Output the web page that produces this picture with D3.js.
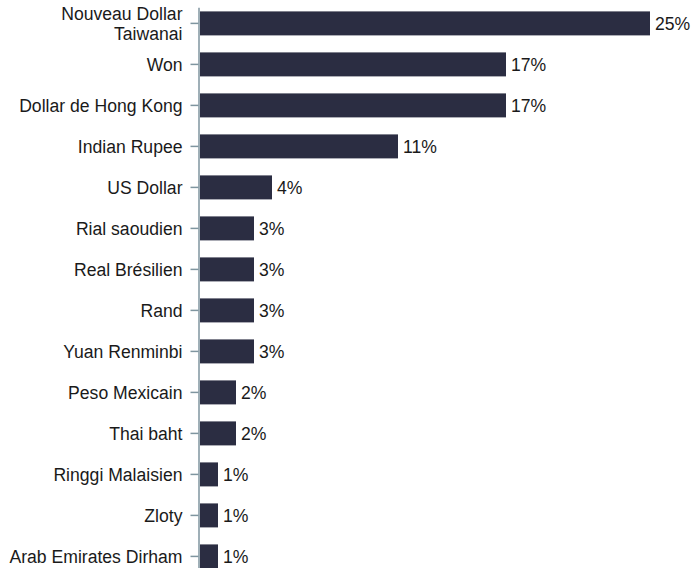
<!DOCTYPE html>
<html>
<head>
<meta charset="utf-8">
<script src="https://cdn.jsdelivr.net/npm/d3@7"></script>
<style>
  html, body { margin: 0; padding: 0; background: #fff; }
  svg { display: block; }
  text { font-family: "Liberation Sans", Arial, sans-serif; }
</style>
</head>
<body>
<svg id="chart" width="693" height="568"></svg>
<script>
const categories = ["Nouveau Dollar Taiwanai", "Won", "Dollar de Hong Kong", "Indian Rupee", "US Dollar",
  "Rial saoudien", "Real Brésilien", "Rand", "Yuan Renminbi", "Peso Mexicain", "Thai baht",
  "Ringgi Malaisien", "Zloty", "Arab Emirates Dirham"];
const values = [25, 17, 17, 11, 4, 3, 3, 3, 3, 2, 2, 1, 1, 1];
const valueLabels = ["25%", "17%", "17%", "11%", "4%", "3%", "3%", "3%", "3%", "2%", "2%", "1%", "1%", "1%"];

const svg = d3.select("#chart");
const fontSize = 17.6;
const left = 199;

const y = d3.scaleBand()
  .domain(categories)
  .range([7.3, 572.5])
  .paddingInner(0.415)
  .paddingOuter(0.1);

const x = d3.scaleLinear().domain([0, 25]).range([0, 450]);

const bars = svg.append("g").attr("transform", `translate(${left + 1},0)`);
bars.selectAll("rect")
  .data(categories)
  .join("rect")
  .attr("x", x(0))
  .attr("y", d => y(d))
  .attr("width", (d, i) => x(values[i]) - x(0))
  .attr("height", y.bandwidth())
  .attr("fill", "#2b2d42");

bars.selectAll("text.val")
  .data(categories)
  .join("text")
  .attr("class", "val")
  .attr("x", (d, i) => x(values[i]) + 5)
  .attr("y", d => y(d) + y.bandwidth() / 2)
  .attr("dy", "0.35em")
  .attr("font-size", fontSize)
  .attr("fill", "#1a1a1a")
  .text((d, i) => valueLabels[i]);

const axis = d3.axisLeft(y).tickSize(8).tickPadding(8).tickSizeOuter(0);
const gAxis = svg.append("g")
  .attr("transform", `translate(${left - 0.5},0)`)
  .call(axis);
gAxis.select(".domain").attr("stroke", "#7f959f").attr("stroke-width", 1.5);
gAxis.selectAll(".tick line").attr("stroke", "#7f959f").attr("stroke-width", 1.5);
gAxis.selectAll(".tick text")
  .attr("font-size", fontSize)
  .attr("font-family", "'Liberation Sans', Arial, sans-serif")
  .attr("fill", "#1a1a1a");

function wrap(sel, width) {
  sel.each(function () {
    const t = d3.select(this);
    const words = t.text().split(/\s+/);
    const xPos = t.attr("x");
    t.text(null);
    let lines = [];
    let line = [];
    const probe = t.append("tspan");
    for (const w of words) {
      line.push(w);
      probe.text(line.join(" "));
      if (probe.node().getComputedTextLength() > width && line.length > 1) {
        line.pop();
        lines.push(line.join(" "));
        line = [w];
      }
    }
    lines.push(line.join(" "));
    probe.remove();
    if (lines.length === 1) {
      t.attr("dy", "0.35em").text(lines[0]);
    } else {
      t.attr("dy", null);
      lines.forEach((l, i) => {
        t.append("tspan")
          .attr("x", xPos)
          .attr("y", 0)
          .attr("dy", (-3.8 + i * 20.8) + "px")
          .text(l);
      });
    }
  });
}
gAxis.selectAll(".tick text").call(wrap, 180);
</script>
</body>
</html>
